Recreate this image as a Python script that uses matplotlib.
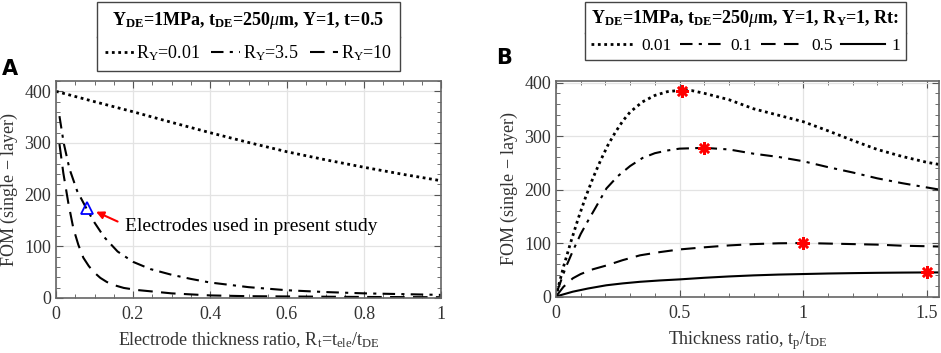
import matplotlib
matplotlib.use("Agg")
import matplotlib.pyplot as plt
from matplotlib.lines import Line2D
from matplotlib.ticker import MultipleLocator

plt.rcParams['font.family'] = ['Liberation Serif', 'DejaVu Serif']
plt.rcParams['mathtext.fontset'] = 'custom'
plt.rcParams['mathtext.rm'] = 'Liberation Serif'
plt.rcParams['mathtext.it'] = 'Liberation Serif:italic'
plt.rcParams['mathtext.bf'] = 'Liberation Serif:bold'

# panel A: FOM vs electrode thickness ratio
a_x1 = [0, 0.1, 0.2, 0.3, 0.4, 0.5, 0.6, 0.7, 0.8, 0.9, 1.0]
a_y1 = [400, 380, 360.5, 340, 320, 301, 283, 267.5, 253, 239.5, 227]
a_x2 = [0.009, 0.02, 0.035, 0.055, 0.08, 0.1, 0.125, 0.16, 0.2, 0.245, 0.3, 0.35, 0.4, 0.5, 0.6, 0.7, 0.8, 0.9, 1.0]
a_y2 = [352, 300, 250, 207, 172, 146, 118, 90, 70, 56, 45, 37, 30, 21, 15, 11.5, 9, 7.5, 6]
a_x3 = [0.009, 0.019, 0.032, 0.045, 0.058, 0.071, 0.085, 0.097, 0.115, 0.132, 0.155, 0.176, 0.21, 0.245, 0.3, 0.4, 0.5, 0.6, 0.8, 1.0]
a_y3 = [298, 242, 184, 135, 103, 78, 62, 51, 39, 31, 24, 19.5, 15.5, 13, 9, 5, 3.5, 3, 2, 1.5]
a_labels = ['R$_\\mathrm{Y}$=0.01', 'R$_\\mathrm{Y}$=3.5', 'R$_\\mathrm{Y}$=10']
tri_x, tri_y = 0.08, 174

# panel B: FOM vs thickness ratio tp/tDE
b_x1 = [0.005, 0.03, 0.06, 0.09, 0.12, 0.15, 0.18, 0.21, 0.24, 0.27, 0.3, 0.35, 0.4, 0.45, 0.5,
        0.55, 0.6, 0.7, 0.8, 0.9, 1.0, 1.1, 1.2, 1.3, 1.4, 1.5, 1.55]
b_y1 = [10, 55, 102, 146, 186, 222, 254, 283, 307, 328, 345, 364, 376, 383, 385.5,
        385, 380, 368, 351, 339, 327, 310, 292, 275, 262, 251, 247]
b_x2 = [0.005, 0.04, 0.068, 0.1, 0.13, 0.16, 0.204, 0.25, 0.3, 0.35, 0.4, 0.45, 0.5, 0.6,
        0.7, 0.8, 0.9, 1.0, 1.1, 1.2, 1.3, 1.4, 1.5, 1.55]
b_y2 = [10, 55, 85, 117, 142, 166, 202, 225, 244, 259, 268, 273, 276.5, 278,
        275, 267, 261, 253, 242, 232, 221, 212, 204, 200]
b_x3 = [0, 0.03, 0.068, 0.1, 0.15, 0.204, 0.27, 0.34, 0.42, 0.5, 0.6, 0.7, 0.8, 0.9, 1.0,
        1.1, 1.2, 1.3, 1.4, 1.55]
b_y3 = [0, 18, 34, 42, 51, 58, 68, 77, 83, 88, 92, 95.5, 98, 99.5, 100,
        99, 98, 97, 95, 93.5]
b_x4 = [0, 0.03, 0.068, 0.13, 0.204, 0.27, 0.34, 0.42, 0.5, 0.6, 0.7, 0.8, 0.9, 1.0,
        1.1, 1.2, 1.3, 1.4, 1.5, 1.55]
b_y4 = [0, 4, 9, 15, 21, 24.5, 27.5, 30, 32, 35, 37.5, 39.5, 41, 42,
        43, 43.7, 44.3, 44.7, 45, 45]
b_labels = ['0.01', '0.1', '0.5', '1']
peak_x = [0.51, 0.6, 1.0, 1.5]
peak_y = [385, 278, 100, 45]

fig = plt.figure(figsize=(9.41, 3.53), dpi=100)
axA = fig.add_axes([56/941, 55/353, 385/941, 217/353])
axB = fig.add_axes([556/941, 56.5/353, 383/941, 215.5/353])

dots = (0, (1, 1.3))
dashdot = (0, (6, 3, 1.5, 3))
dash = (0, (7, 4))

lA1, = axA.plot(a_x1, a_y1, color='k', lw=2, linestyle=dots)
lA2, = axA.plot(a_x2, a_y2, color='k', lw=1.5, linestyle=dashdot)
lA3, = axA.plot(a_x3, a_y3, color='k', lw=1.5, linestyle=dash)
axA.plot(tri_x, tri_y, marker='^', ms=8, mfc='none', mec='blue', mew=1.3)
axA.annotate('', xy=(0.104, 167), xytext=(0.16, 148),
             arrowprops=dict(arrowstyle='-|>', color='red', lw=1.5, shrinkA=0, shrinkB=0,
                             mutation_scale=11))
axA.text(0.179, 139, 'Electrodes used in present study', fontsize=14, va='center', ha='left')
axA.set_xlim(0, 1)
axA.set_ylim(0, 420)
axA.xaxis.set_minor_locator(MultipleLocator(0.05))
axA.set_xticks([0, 0.2, 0.4, 0.6, 0.8, 1.0])
axA.set_xticklabels(['0', '0.2', '0.4', '0.6', '0.8', '1'])
axA.set_xlabel('Electrode thickness ratio, R$_\\mathrm{t}$=t$_\\mathrm{ele}$/t$_\\mathrm{DE}$',
               fontsize=13, color='#333333', labelpad=5)

lB1, = axB.plot(b_x1, b_y1, color='k', lw=2, linestyle=dots)
lB2, = axB.plot(b_x2, b_y2, color='k', lw=1.5, linestyle=dashdot)
lB3, = axB.plot(b_x3, b_y3, color='k', lw=1.5, linestyle=dash)
lB4, = axB.plot(b_x4, b_y4, color='k', lw=1.5, linestyle='-')
axB.plot(peak_x, peak_y, linestyle='none', marker=(8, 2, 0), ms=9, mec='red', mew=1.8)
axB.set_xlim(0, 1.55)
axB.set_ylim(0, 403)
axB.xaxis.set_minor_locator(MultipleLocator(0.1))
axB.set_xticks([0, 0.5, 1.0, 1.5])
axB.set_xticklabels(['0', '0.5', '1', '1.5'])
axB.set_xlabel('Thickness ratio, t$_\\mathrm{p}$/t$_\\mathrm{DE}$', fontsize=13, color='#333333',
               labelpad=5)

for ax in (axA, axB):
    ax.yaxis.set_major_locator(MultipleLocator(100))
    ax.yaxis.set_minor_locator(MultipleLocator(20))
    ax.grid(True, which='major', color='#e3e3e3', lw=0.9)
    ax.set_axisbelow(True)
    ax.tick_params(which='both', direction='in', top=True, right=True, colors='#555555',
                   labelcolor='#333333', labelsize=13)
    ax.tick_params(axis='x', which='major', pad=6)
    ax.tick_params(which='major', length=5)
    ax.tick_params(which='minor', length=3)
    for s in ax.spines.values():
        s.set_color('#666666')
        s.set_linewidth(1.2)
    ax.set_ylabel('FOM (single $-$ layer)', fontsize=13, color='#333333', labelpad=3)

titleA = ('Y$_\\mathbf{DE}$=1MPa, t$_\\mathbf{DE}$=250$\\mathit{\\mu}$m, Y=1, t=0.5')
titleB = ('Y$_\\mathbf{DE}$=1MPa, t$_\\mathbf{DE}$=250$\\mathit{\\mu}$m, Y=1, R$_\\mathbf{Y}$=1, Rt:')

legA = fig.legend([lA1, lA2, lA3], a_labels, ncol=3, loc='upper center',
                  bbox_to_anchor=(248.5/941, 0.995), title=titleA, fontsize=13,
                  title_fontproperties={'weight': 'bold', 'size': 13},
                  frameon=True, fancybox=False, edgecolor='#444444', framealpha=1,
                  handlelength=1.6, handletextpad=0.15, columnspacing=0.6,
                  borderpad=0.45, labelspacing=0.7, borderaxespad=0)
legB = fig.legend([lB1, lB2, lB3, lB4], b_labels, ncol=4, loc='upper center',
                  bbox_to_anchor=(745.5/941, 0.995), title=titleB, fontsize=12.5,
                  title_fontproperties={'weight': 'bold', 'size': 13},
                  frameon=True, fancybox=False, edgecolor='#444444', framealpha=1,
                  handlelength=2.5, handletextpad=0.4, columnspacing=0.5,
                  borderpad=0.35, labelspacing=0.5, borderaxespad=0)
for leg in (legA, legB):
    leg.get_frame().set_linewidth(1.0)

# divider line between legend title and entries
fig.canvas.draw()
r = fig.canvas.get_renderer()
for leg in (legA, legB):
    fb = leg.get_frame().get_window_extent(r)
    tb = leg.get_title().get_window_extent(r)
    hb = leg._legend_handle_box.get_window_extent(r)
    y = (tb.y0 + hb.y1) / 2
    fig.add_artist(Line2D([fb.x0 / 941, fb.x1 / 941], [y / 353, y / 353],
                          transform=fig.transFigure, color='#444444', lw=1.0))

fig.text(2/941, 1 - 75/353, 'A', fontsize=15, fontweight='bold', family='DejaVu Sans')
fig.text(496/941, 1 - 64/353, 'B', fontsize=15, fontweight='bold', family='DejaVu Sans')

fig.savefig('out.png', dpi=100)
